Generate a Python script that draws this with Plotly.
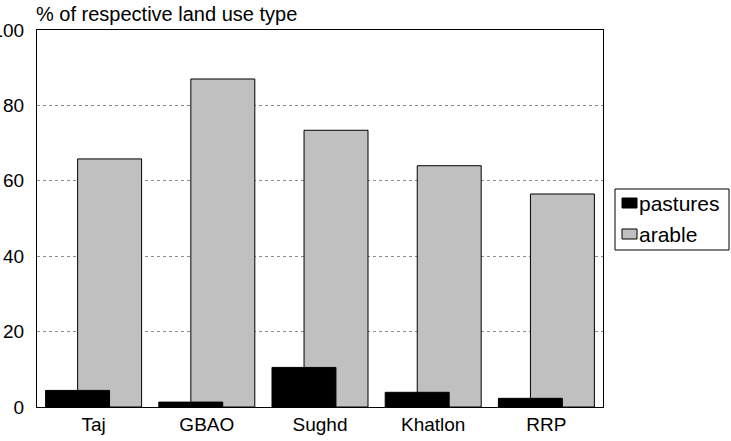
import plotly.graph_objects as go

# Share of land use type by region (%)
regions = ["Taj", "GBAO", "Sughd", "Khatlon", "RRP"]
pastures = [4.4, 1.3, 10.5, 3.9, 2.3]
arable = [65.8, 87.0, 73.4, 64.0, 56.5]
y_ticks = [0, 20, 40, 60, 80, 100]
series_names = ["pastures", "arable"]
series_colors = ["black", "#C0C0C0"]

FONT = "Liberation Sans, Arial, sans-serif"
FS = 19
BAR_W = 0.565

fig = go.Figure()
# arable drawn first so the pastures bars sit in front of it
fig.add_trace(go.Bar(
    x=regions, y=arable, name=series_names[1],
    width=BAR_W, offset=-0.141,
    marker=dict(color=series_colors[1], line=dict(color="black", width=1)),
))
fig.add_trace(go.Bar(
    x=regions, y=pastures, name=series_names[0],
    width=BAR_W, offset=-0.424,
    marker=dict(color=series_colors[0], line=dict(color="black", width=1)),
))

# compact legend box to the right of the plot, in pixel-based paper coords
L, R, T, B = 37, 603, 30, 407
W, H = 731, 441


def px_x(p):
    return (p - L) / (R - L)


def px_y(p):
    return (B - p) / (B - T)


shapes = [dict(type="rect", xref="paper", yref="paper",
               x0=px_x(615), x1=px_x(729), y0=px_y(250), y1=px_y(189),
               line=dict(color="black", width=1), fillcolor="white")]
annotations = []
for i, (name, col) in enumerate(zip(series_names, series_colors)):
    cy = 203 + 31 * i
    shapes.append(dict(type="rect", xref="paper", yref="paper",
                       x0=px_x(622), x1=px_x(637), y0=px_y(cy + 5), y1=px_y(cy - 5),
                       line=dict(color="black", width=1), fillcolor=col))
    annotations.append(dict(text=name, xref="paper", yref="paper",
                            x=px_x(637), y=px_y(cy), xanchor="left", yanchor="middle",
                            showarrow=False, font=dict(family=FONT, size=21)))

annotations.append(dict(
    text="% of respective land use type", xref="paper", yref="paper",
    x=0, y=1, xanchor="left", yanchor="bottom", yshift=3, xshift=-3,
    showarrow=False, font=dict(family=FONT, size=20),
))

fig.update_layout(
    width=W, height=H,
    margin=dict(l=L, r=W - R, t=T, b=H - B, autoexpand=False),
    barmode="overlay",
    paper_bgcolor="white", plot_bgcolor="white",
    font=dict(family=FONT, size=FS, color="black"),
    showlegend=False,
    xaxis=dict(
        showgrid=False, showline=True, linecolor="black", linewidth=1,
        mirror=True, ticks="", automargin=False,
        tickfont=dict(family=FONT, size=FS),
    ),
    yaxis=dict(
        range=[0, 100], tickvals=y_ticks, showgrid=True,
        gridcolor="#8c8c8c", griddash="dot", gridwidth=1,
        showline=True, linecolor="black", linewidth=1, mirror=True,
        ticks="", automargin=False, zeroline=False, ticklabelstandoff=8,
        tickfont=dict(family=FONT, size=FS),
    ),
    shapes=shapes,
    annotations=annotations,
)

fig.write_html("out.html")
